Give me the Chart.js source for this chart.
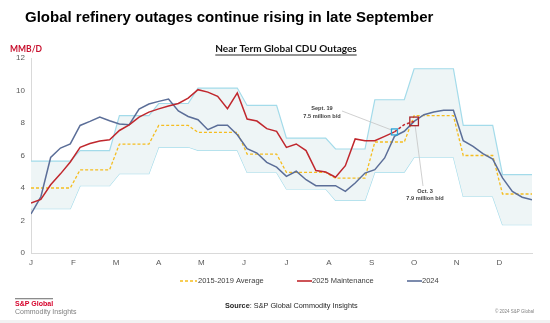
<!DOCTYPE html>
<html>
<head>
<meta charset="utf-8">
<script src="https://cdn.jsdelivr.net/npm/chart.js@4.4.1/dist/chart.umd.min.js"></script>
<style>
  html, body { margin: 0; padding: 0; background: #fff; }
  #wrap { position: relative; width: 550px; height: 323px; }
</style>
</head>
<body>
<div id="wrap"><canvas id="chart"></canvas></div>
<script>
// weekly data, week 0 = first week of January
const weekNums = Array.from({ length: 52 }, (_, i) => i);
const monthLabels = ['J', 'F', 'M', 'A', 'M', 'J', 'J', 'A', 'S', 'O', 'N', 'D'];
const monthTicks = [0, 4.33, 8.67, 13, 17.33, 21.67, 26, 30.33, 34.67, 39, 43.33, 47.67];
const yTicks = [0, 2, 4, 6, 8, 10, 12];

const rangeMax = [
    5.66, 5.66, 5.66, 5.66, 5.66, 6.3, 6.3, 6.3, 6.3, 8.45, 8.45, 8.45, 8.45,
    9.2, 9.2, 9.2, 9.2, 10.15, 10.15, 10.15, 10.15, 10.15, 9.08, 9.08, 9.08, 9.08,
    7.07, 7.07, 7.07, 7.07, 7.07, 6.4, 6.4, 6.4, 6.4, 9.43, 9.43, 9.43, 9.43,
    11.34, 11.34, 11.34, 11.34, 11.34, 7.85, 7.85, 7.85, 7.85, 4.82, 4.82, 4.82, 4.82
];
const rangeMin = [
    2.73, 2.73, 2.73, 2.73, 2.73, 4.14, 4.14, 4.14, 4.14, 4.88, 4.88, 4.88, 4.88,
    6.52, 6.52, 6.52, 6.52, 6.32, 6.32, 6.32, 6.32, 6.32, 4.96, 4.96, 4.96, 4.96,
    3.94, 3.94, 3.94, 3.94, 3.94, 3.24, 3.24, 3.24, 3.24, 4.98, 4.98, 4.98, 4.98,
    5.9, 5.9, 5.9, 5.9, 5.9, 3.48, 3.48, 3.48, 3.48, 1.74, 1.74, 1.74, 1.74
];
const avg1519 = [
    4.0, 4.0, 4.0, 4.0, 4.0, 5.12, 5.12, 5.12, 5.12, 6.7, 6.7, 6.7, 6.7,
    7.85, 7.85, 7.85, 7.85, 7.42, 7.42, 7.42, 7.42, 7.42, 6.09, 6.09, 6.09, 6.09,
    4.96, 4.96, 4.96, 4.96, 4.96, 4.61, 4.61, 4.61, 4.61, 6.83, 6.83, 6.83, 6.83,
    8.45, 8.45, 8.45, 8.45, 8.45, 6.0, 6.0, 6.0, 6.0, 3.63, 3.63, 3.63, 3.63
];
const maint2025 = [
    3.08, 3.3, 4.2, 4.87, 5.6, 6.5, 6.74, 6.89, 6.97, 7.54, 7.88, 8.36, 8.67,
    8.87, 9.05, 9.2, 9.53, 10.05, 9.9, 9.64, 8.88, 9.85, 8.24, 8.12, 7.65, 7.49,
    6.5, 6.71, 6.3, 5.07, 4.98, 4.66, 5.37, 7.02, 6.91, 6.91, 7.18, 7.45, 7.9,
    8.1, null, null, null, null, null, null, null, null, null, null, null, null
];
const y2024 = [
    2.4, 3.45, 5.88, 6.46, 6.71, 7.85, 8.1, 8.37, 8.14, 7.94, 7.9, 8.86, 9.17,
    9.33, 9.47, 8.74, 8.4, 8.2, 7.59, 7.86, 7.86, 7.28, 6.42, 6.15, 5.58, 5.28,
    4.72, 5.03, 4.51, 4.14, 4.14, 4.14, 3.79, 4.31, 4.92, 5.13, 5.85, 7.18, 7.49,
    8.1, 8.51, 8.68, 8.78, 8.78, 6.91, 6.56, 6.11, 5.78, 4.62, 3.79, 3.43, 3.28
];
// last actual week and the forecast point
const sept19 = 37;
const oct3 = 39;

const RED = '#c0272d';
const BLUE = '#5b6e98';
const GOLD = '#f5bd1f';
const BAND = '#a3dbea';
const FONT = "'Liberation Sans', Arial, sans-serif";

function txt(ctx, s, x, y, font, color, align) {
    ctx.font = font;
    ctx.fillStyle = color;
    ctx.textAlign = align || 'left';
    ctx.textBaseline = 'middle';
    ctx.fillText(s, x, y);
}

function line(ctx, x1, y1, x2, y2, color, width, dash) {
    ctx.save();
    ctx.strokeStyle = color;
    ctx.lineWidth = width;
    ctx.setLineDash(dash || []);
    ctx.beginPath();
    ctx.moveTo(x1, y1);
    ctx.lineTo(x2, y2);
    ctx.stroke();
    ctx.restore();
}

const decor = {
    id: 'decor',
    afterDatasetsDraw(chart) {
        const { ctx, scales: { x, y } } = chart;
        const bx = x.getPixelForValue(sept19), by = y.getPixelForValue(maint2025[sept19]);
        const rx = x.getPixelForValue(oct3), ry = y.getPixelForValue(maint2025[oct3]);

        // leader lines
        line(ctx, 342, 111, bx - 3, by - 2, '#c4c4c4', 0.8);
        line(ctx, rx + 1, ry + 4, 423, 186, '#c4c4c4', 0.8);

        ctx.save();
        ctx.lineWidth = 1.3;
        ctx.strokeStyle = '#2aa3d5';
        ctx.strokeRect(bx - 3, by - 3, 6, 6);
        ctx.strokeStyle = '#a8262b';
        ctx.strokeRect(rx - 4.3, ry - 4.3, 8.6, 8.6);
        ctx.restore();

        const af = `bold 5.6px ${FONT}`;
        txt(ctx, 'Sept. 19', 322, 108.5, af, '#404040', 'center');
        txt(ctx, '7.5 million b/d', 322, 116, af, '#404040', 'center');
        txt(ctx, 'Oct. 3', 425, 191, af, '#404040', 'center');
        txt(ctx, '7.9 million b/d', 425, 198.5, af, '#404040', 'center');
    },
    afterDraw(chart) {
        const { ctx } = chart;
        ctx.save();

        txt(ctx, 'Global refinery outages continue rising in late September', 25, 18, `bold 15px ${FONT}`, '#000', 'left');

        // subtitle, underlined
        const sf = "bold 10px Lato, 'Open Sans', sans-serif";
        txt(ctx, 'Near Term Global CDU Outages', 286, 49, sf, '#111', 'center');
        const sw = ctx.measureText('Near Term Global CDU Outages').width;
        line(ctx, 286 - sw / 2, 55, 286 + sw / 2, 55, '#111', 0.9);

        txt(ctx, 'MMB/D', 10, 49.5, "bold 8.5px Lato, sans-serif", '#c8102e', 'left');

        // legend
        const lf = `7.5px ${FONT}`;
        line(ctx, 180, 281, 197, 281, GOLD, 1.3, [3, 2]);
        txt(ctx, '2015-2019 Average', 198, 281, lf, '#404040');
        line(ctx, 297, 281, 312, 281, RED, 1.6);
        txt(ctx, '2025 Maintenance', 312, 281, lf, '#404040');
        line(ctx, 407, 281, 422, 281, BLUE, 1.6);
        txt(ctx, '2024', 422, 281, lf, '#404040');

        // footer
        ctx.fillStyle = '#8c8c8c';
        ctx.fillRect(15, 298, 38, 1.3);
        txt(ctx, 'S&P Global', 15, 304, `bold 7px ${FONT}`, '#d6002a');
        txt(ctx, 'Commodity Insights', 15, 312, `7px ${FONT}`, '#7f7f7f');

        txt(ctx, 'Source', 225, 306, `bold 7.3px ${FONT}`, '#262626');
        const w = ctx.measureText('Source').width;
        txt(ctx, ': S&P Global Commodity Insights', 225 + w, 306, `7.3px ${FONT}`, '#262626');

        txt(ctx, '\u00a9 2024 S&P Global', 495, 312, `4.5px ${FONT}`, '#7f7f7f');

        ctx.fillStyle = '#f2f2f2';
        ctx.fillRect(0, 320, 550, 3);
        ctx.restore();
    }
};

const tickFont = { family: FONT, size: 8 };

new Chart(document.getElementById('chart'), {
    type: 'line',
    data: {
        labels: weekNums,
        datasets: [
            {
                label: 'Max',
                data: rangeMax,
                borderColor: BAND,
                borderWidth: 1.2,
                backgroundColor: '#eef5f6',
                fill: '+1',
                pointRadius: 0,
                order: 5
            },
            {
                label: 'Min',
                data: rangeMin,
                borderColor: BAND,
                borderWidth: 1.2,
                fill: false,
                pointRadius: 0,
                order: 5
            },
            {
                label: '2015-2019 Average',
                data: avg1519,
                borderColor: GOLD,
                borderWidth: 1.3,
                borderDash: [3, 2],
                fill: false,
                pointRadius: 0,
                order: 3
            },
            {
                label: '2024',
                data: y2024,
                borderColor: BLUE,
                borderWidth: 1.5,
                fill: false,
                pointRadius: 0,
                order: 2
            },
            {
                label: '2025 Maintenance',
                data: maint2025,
                borderColor: RED,
                borderWidth: 1.5,
                fill: false,
                pointRadius: 0,
                order: 1,
                segment: {
                    borderDash: c => c.p0DataIndex >= sept19 ? [3, 2] : undefined
                }
            }
        ]
    },
    options: {
        responsive: true,
        maintainAspectRatio: false,
        animation: false,
        devicePixelRatio: 1,
        layout: { padding: { top: 58, right: 18, bottom: 50, left: 0 } },
        plugins: {
            legend: { display: false },
            tooltip: { enabled: false }
        },
        scales: {
            x: {
                type: 'linear',
                min: 0,
                max: 51,
                afterBuildTicks: s => { s.ticks = monthTicks.map(v => ({ value: v })); },
                afterFit: s => { s.height = 20; },
                ticks: {
                    autoSkip: false,
                    maxRotation: 0,
                    padding: 5,
                    font: tickFont,
                    color: '#595959',
                    callback: (v, i) => monthLabels[i]
                },
                grid: { display: false, drawTicks: false },
                border: { display: true, color: '#d9d9d9', width: 1 }
            },
            y: {
                min: 0,
                max: 12,
                afterBuildTicks: s => { s.ticks = yTicks.map(v => ({ value: v })); },
                afterFit: s => { s.width = 31; },
                ticks: { padding: 6, font: tickFont, color: '#595959' },
                grid: { display: false, drawTicks: false },
                border: { display: true, color: '#d9d9d9', width: 1 }
            }
        }
    },
    plugins: [decor]
});
</script>
</body>
</html>
